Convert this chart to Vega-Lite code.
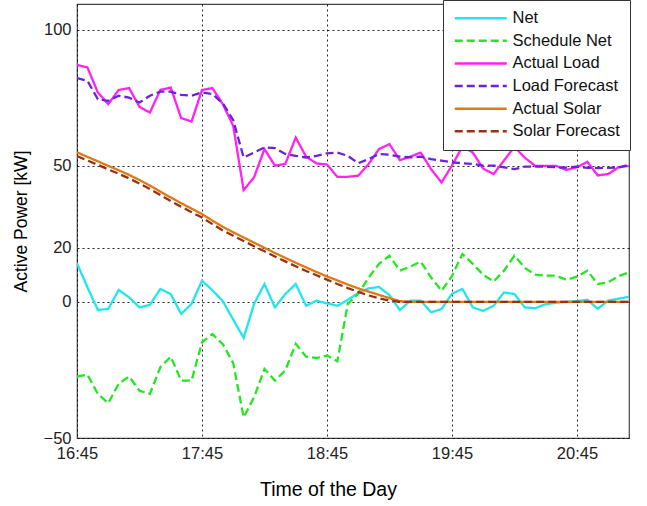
{
  "$schema": "https://vega.github.io/schema/vega-lite/v6.json",
  "width": 552,
  "height": 434,
  "autosize": {"type": "none"},
  "padding": {"left": 77, "top": 4, "right": 18, "bottom": 68},
  "config": {
    "font": "Liberation Sans",
    "view": {"stroke": "#444", "strokeWidth": 1.2},
    "axis": {
      "grid": true, "gridColor": "#000", "gridDash": [2, 3], "gridWidth": 1, "gridOpacity": 0.85,
      "domain": false, "ticks": false,
      "labelFont": "Liberation Sans", "labelFontSize": 16.5, "labelColor": "#222",
      "titleFont": "Liberation Sans", "titleFontWeight": "normal", "titleColor": "#000"
    }
  },
  "data": {
    "values": [
      {"t": "2020-01-01T16:45", "Net": 14.2, "Schedule Net": -27.4, "Actual Load": 87.1, "Load Forecast": 82.3, "Actual Solar": 55.0, "Solar Forecast": 53.6},
      {"t": "2020-01-01T16:50", "Net": 5.4, "Schedule Net": -26.7, "Actual Load": 86.2, "Load Forecast": 81.3, "Actual Solar": 53.3, "Solar Forecast": 52.0},
      {"t": "2020-01-01T16:55", "Net": -2.9, "Schedule Net": -33.8, "Actual Load": 77.0, "Load Forecast": 74.5, "Actual Solar": 51.7, "Solar Forecast": 50.4},
      {"t": "2020-01-01T17:00", "Net": -2.6, "Schedule Net": -37.2, "Actual Load": 72.7, "Load Forecast": 73.9, "Actual Solar": 50.0, "Solar Forecast": 48.7},
      {"t": "2020-01-01T17:05", "Net": 4.4, "Schedule Net": -30.1, "Actual Load": 77.9, "Load Forecast": 75.8, "Actual Solar": 48.4, "Solar Forecast": 47.1},
      {"t": "2020-01-01T17:10", "Net": 1.7, "Schedule Net": -27.4, "Actual Load": 78.6, "Load Forecast": 75.1, "Actual Solar": 46.7, "Solar Forecast": 45.4},
      {"t": "2020-01-01T17:15", "Net": -2.0, "Schedule Net": -32.6, "Actual Load": 71.7, "Load Forecast": 73.3, "Actual Solar": 44.8, "Solar Forecast": 43.5},
      {"t": "2020-01-01T17:20", "Net": -1.1, "Schedule Net": -33.8, "Actual Load": 69.6, "Load Forecast": 75.8, "Actual Solar": 42.8, "Solar Forecast": 41.5},
      {"t": "2020-01-01T17:25", "Net": 4.8, "Schedule Net": -24.0, "Actual Load": 77.9, "Load Forecast": 77.3, "Actual Solar": 40.6, "Solar Forecast": 39.3},
      {"t": "2020-01-01T17:30", "Net": 2.9, "Schedule Net": -20.1, "Actual Load": 78.8, "Load Forecast": 77.3, "Actual Solar": 38.4, "Solar Forecast": 37.1},
      {"t": "2020-01-01T17:35", "Net": -4.4, "Schedule Net": -28.9, "Actual Load": 67.6, "Load Forecast": 76.1, "Actual Solar": 36.3, "Solar Forecast": 35.0},
      {"t": "2020-01-01T17:40", "Net": -0.7, "Schedule Net": -28.9, "Actual Load": 66.3, "Load Forecast": 75.8, "Actual Solar": 34.3, "Solar Forecast": 33.0},
      {"t": "2020-01-01T17:45", "Net": 7.8, "Schedule Net": -14.8, "Actual Load": 77.9, "Load Forecast": 77.0, "Actual Solar": 32.3, "Solar Forecast": 31.0},
      {"t": "2020-01-01T17:50", "Net": 4.3, "Schedule Net": -11.8, "Actual Load": 78.6, "Load Forecast": 76.4, "Actual Solar": 29.9, "Solar Forecast": 28.6},
      {"t": "2020-01-01T17:55", "Net": 0.3, "Schedule Net": -15.5, "Actual Load": 72.7, "Load Forecast": 73.0, "Actual Solar": 27.6, "Solar Forecast": 26.3},
      {"t": "2020-01-01T18:00", "Net": -6.5, "Schedule Net": -22.5, "Actual Load": 64.7, "Load Forecast": 66.8, "Actual Solar": 25.6, "Solar Forecast": 24.3},
      {"t": "2020-01-01T18:05", "Net": -13.2, "Schedule Net": -42.4, "Actual Load": 41.1, "Load Forecast": 53.1, "Actual Solar": 23.7, "Solar Forecast": 22.4},
      {"t": "2020-01-01T18:10", "Net": -0.7, "Schedule Net": -35.0, "Actual Load": 45.8, "Load Forecast": 54.9, "Actual Solar": 21.8, "Solar Forecast": 20.5},
      {"t": "2020-01-01T18:15", "Net": 6.6, "Schedule Net": -24.6, "Actual Load": 56.2, "Load Forecast": 56.8, "Actual Solar": 19.9, "Solar Forecast": 18.6},
      {"t": "2020-01-01T18:20", "Net": -2.0, "Schedule Net": -28.9, "Actual Load": 50.1, "Load Forecast": 56.5, "Actual Solar": 18.0, "Solar Forecast": 16.7},
      {"t": "2020-01-01T18:25", "Net": 2.9, "Schedule Net": -25.2, "Actual Load": 50.7, "Load Forecast": 54.4, "Actual Solar": 16.2, "Solar Forecast": 14.9},
      {"t": "2020-01-01T18:30", "Net": 6.6, "Schedule Net": -15.4, "Actual Load": 60.4, "Load Forecast": 53.7, "Actual Solar": 14.4, "Solar Forecast": 13.1},
      {"t": "2020-01-01T18:35", "Net": -1.4, "Schedule Net": -20.1, "Actual Load": 53.4, "Load Forecast": 53.1, "Actual Solar": 12.7, "Solar Forecast": 11.4},
      {"t": "2020-01-01T18:40", "Net": 0.5, "Schedule Net": -20.6, "Actual Load": 50.9, "Load Forecast": 53.7, "Actual Solar": 11.0, "Solar Forecast": 9.8},
      {"t": "2020-01-01T18:45", "Net": -0.5, "Schedule Net": -19.7, "Actual Load": 50.5, "Load Forecast": 54.6, "Actual Solar": 9.4, "Solar Forecast": 8.2},
      {"t": "2020-01-01T18:50", "Net": -1.4, "Schedule Net": -21.8, "Actual Load": 46.0, "Load Forecast": 54.9, "Actual Solar": 7.9, "Solar Forecast": 6.6},
      {"t": "2020-01-01T18:55", "Net": 0.8, "Schedule Net": -0.7, "Actual Load": 46.0, "Load Forecast": 53.7, "Actual Solar": 6.4, "Solar Forecast": 5.1},
      {"t": "2020-01-01T19:00", "Net": 3.3, "Schedule Net": 3.0, "Actual Load": 46.4, "Load Forecast": 51.0, "Actual Solar": 5.0, "Solar Forecast": 3.7},
      {"t": "2020-01-01T19:05", "Net": 5.0, "Schedule Net": 9.0, "Actual Load": 50.7, "Load Forecast": 52.5, "Actual Solar": 3.8, "Solar Forecast": 2.4},
      {"t": "2020-01-01T19:10", "Net": 5.5, "Schedule Net": 14.0, "Actual Load": 56.2, "Load Forecast": 54.4, "Actual Solar": 2.6, "Solar Forecast": 1.3},
      {"t": "2020-01-01T19:15", "Net": 2.5, "Schedule Net": 17.0, "Actual Load": 58.0, "Load Forecast": 54.1, "Actual Solar": 1.4, "Solar Forecast": 0.5},
      {"t": "2020-01-01T19:20", "Net": -3.0, "Schedule Net": 11.5, "Actual Load": 52.1, "Load Forecast": 53.4, "Actual Solar": 0.3, "Solar Forecast": 0.0},
      {"t": "2020-01-01T19:25", "Net": 0.5, "Schedule Net": 13.0, "Actual Load": 53.4, "Load Forecast": 53.1, "Actual Solar": 0.0, "Solar Forecast": 0.0},
      {"t": "2020-01-01T19:30", "Net": 0.5, "Schedule Net": 14.8, "Actual Load": 54.9, "Load Forecast": 53.4, "Actual Solar": 0.0, "Solar Forecast": 0.0},
      {"t": "2020-01-01T19:35", "Net": -3.8, "Schedule Net": 9.0, "Actual Load": 48.8, "Load Forecast": 52.5, "Actual Solar": 0.0, "Solar Forecast": 0.0},
      {"t": "2020-01-01T19:40", "Net": -2.6, "Schedule Net": 4.1, "Actual Load": 43.9, "Load Forecast": 51.9, "Actual Solar": 0.0, "Solar Forecast": 0.0},
      {"t": "2020-01-01T19:45", "Net": 3.0, "Schedule Net": 9.5, "Actual Load": 50.1, "Load Forecast": 51.3, "Actual Solar": 0.0, "Solar Forecast": 0.0},
      {"t": "2020-01-01T19:50", "Net": 4.8, "Schedule Net": 17.6, "Actual Load": 57.1, "Load Forecast": 51.0, "Actual Solar": 0.0, "Solar Forecast": 0.0},
      {"t": "2020-01-01T19:55", "Net": -2.0, "Schedule Net": 14.0, "Actual Load": 54.9, "Load Forecast": 50.7, "Actual Solar": 0.0, "Solar Forecast": 0.0},
      {"t": "2020-01-01T20:00", "Net": -3.3, "Schedule Net": 10.0, "Actual Load": 49.0, "Load Forecast": 50.1, "Actual Solar": 0.0, "Solar Forecast": 0.0},
      {"t": "2020-01-01T20:05", "Net": -1.4, "Schedule Net": 7.5, "Actual Load": 47.0, "Load Forecast": 50.1, "Actual Solar": 0.0, "Solar Forecast": 0.0},
      {"t": "2020-01-01T20:10", "Net": 3.5, "Schedule Net": 11.5, "Actual Load": 52.0, "Load Forecast": 49.5, "Actual Solar": 0.0, "Solar Forecast": 0.0},
      {"t": "2020-01-01T20:15", "Net": 2.9, "Schedule Net": 17.0, "Actual Load": 57.0, "Load Forecast": 48.8, "Actual Solar": 0.0, "Solar Forecast": 0.0},
      {"t": "2020-01-01T20:20", "Net": -2.0, "Schedule Net": 12.5, "Actual Load": 53.0, "Load Forecast": 49.7, "Actual Solar": 0.0, "Solar Forecast": 0.0},
      {"t": "2020-01-01T20:25", "Net": -2.3, "Schedule Net": 10.0, "Actual Load": 50.0, "Load Forecast": 49.7, "Actual Solar": 0.0, "Solar Forecast": 0.0},
      {"t": "2020-01-01T20:30", "Net": -0.8, "Schedule Net": 9.7, "Actual Load": 50.0, "Load Forecast": 49.7, "Actual Solar": 0.0, "Solar Forecast": 0.0},
      {"t": "2020-01-01T20:35", "Net": -0.3, "Schedule Net": 9.7, "Actual Load": 50.0, "Load Forecast": 49.5, "Actual Solar": 0.0, "Solar Forecast": 0.0},
      {"t": "2020-01-01T20:40", "Net": 0.0, "Schedule Net": 8.1, "Actual Load": 48.5, "Load Forecast": 49.4, "Actual Solar": 0.0, "Solar Forecast": 0.0},
      {"t": "2020-01-01T20:45", "Net": 0.3, "Schedule Net": 9.3, "Actual Load": 49.5, "Load Forecast": 49.7, "Actual Solar": 0.0, "Solar Forecast": 0.0},
      {"t": "2020-01-01T20:50", "Net": 0.8, "Schedule Net": 11.5, "Actual Load": 51.5, "Load Forecast": 49.3, "Actual Solar": 0.0, "Solar Forecast": 0.0},
      {"t": "2020-01-01T20:55", "Net": -2.5, "Schedule Net": 6.6, "Actual Load": 46.5, "Load Forecast": 49.2, "Actual Solar": 0.0, "Solar Forecast": 0.0},
      {"t": "2020-01-01T21:00", "Net": 0.5, "Schedule Net": 7.2, "Actual Load": 47.0, "Load Forecast": 49.3, "Actual Solar": 0.0, "Solar Forecast": 0.0},
      {"t": "2020-01-01T21:05", "Net": 1.2, "Schedule Net": 9.5, "Actual Load": 49.5, "Load Forecast": 49.4, "Actual Solar": 0.0, "Solar Forecast": 0.0},
      {"t": "2020-01-01T21:10", "Net": 1.9, "Schedule Net": 10.9, "Actual Load": 50.0, "Load Forecast": 50.4, "Actual Solar": 0.0, "Solar Forecast": 0.0}
    ]
  },
  "transform": [
    {"fold": ["Net", "Schedule Net", "Actual Load", "Load Forecast", "Actual Solar", "Solar Forecast"], "as": ["series", "kW"]}
  ],
  "mark": {"type": "line", "strokeWidth": 2.3, "clip": true},
  "encoding": {
    "x": {
      "field": "t", "type": "temporal",
      "scale": {"domain": [{"year": 2020, "month": 1, "date": 1, "hours": 16, "minutes": 45}, {"year": 2020, "month": 1, "date": 1, "hours": 21, "minutes": 10}]},
      "axis": {
        "values": [
          {"year": 2020, "month": 1, "date": 1, "hours": 16, "minutes": 45},
          {"year": 2020, "month": 1, "date": 1, "hours": 17, "minutes": 45},
          {"year": 2020, "month": 1, "date": 1, "hours": 18, "minutes": 45},
          {"year": 2020, "month": 1, "date": 1, "hours": 19, "minutes": 45},
          {"year": 2020, "month": 1, "date": 1, "hours": 20, "minutes": 45}
        ],
        "format": "%H:%M", "labelPadding": 7, "labelFlush": false,
        "title": "Time of the Day", "titleFontSize": 19.5, "titleX": 251, "titleY": 57, "titleBaseline": "alphabetic", "titleAnchor": null, "titleAlign": "center"
      }
    },
    "y": {
      "field": "kW", "type": "quantitative",
      "scale": {"domain": [-50, 109.5], "nice": false, "zero": false},
      "axis": {"values": [-50, 0, 20, 50, 100], "labelPadding": 6, "title": "Active Power [kW]", "titleFontSize": 17.5, "titleX": -47, "titleBaseline": "bottom"}
    },
    "color": {
      "field": "series", "type": "nominal",
      "scale": {"domain": ["Net", "Schedule Net", "Actual Load", "Load Forecast", "Actual Solar", "Solar Forecast"],
                "range": ["#22E5EE", "#22E822", "#FF22F0", "#6A22DD", "#DD7A15", "#9A3210"]},
      "legend": {"title": null, "orient": "none", "legendX": 366, "legendY": -4, "symbolType": "M-1,0H7", "symbolSize": 169, "symbolStrokeWidth": 2.5,
                 "labelFontSize": 16.5, "labelColor": "#111", "labelOffset": 43, "rowPadding": 5.6, "padding": 10,
                 "fillColor": "#fff", "strokeColor": "#333", "cornerRadius": 0}
    },
    "strokeDash": {
      "field": "series", "type": "nominal",
      "scale": {"domain": ["Net", "Schedule Net", "Actual Load", "Load Forecast", "Actual Solar", "Solar Forecast"],
                "range": [[1, 0], [8, 4], [1, 0], [8, 4], [1, 0], [8, 4]]},
      "legend": {"title": null, "orient": "none", "legendX": 366, "legendY": -4, "symbolType": "M-1,0H7", "symbolSize": 169, "symbolStrokeWidth": 2.5,
                 "labelFontSize": 16.5, "labelColor": "#111", "labelOffset": 43, "rowPadding": 5.6, "padding": 10,
                 "fillColor": "#fff", "strokeColor": "#333", "cornerRadius": 0}
    }
  }
}
